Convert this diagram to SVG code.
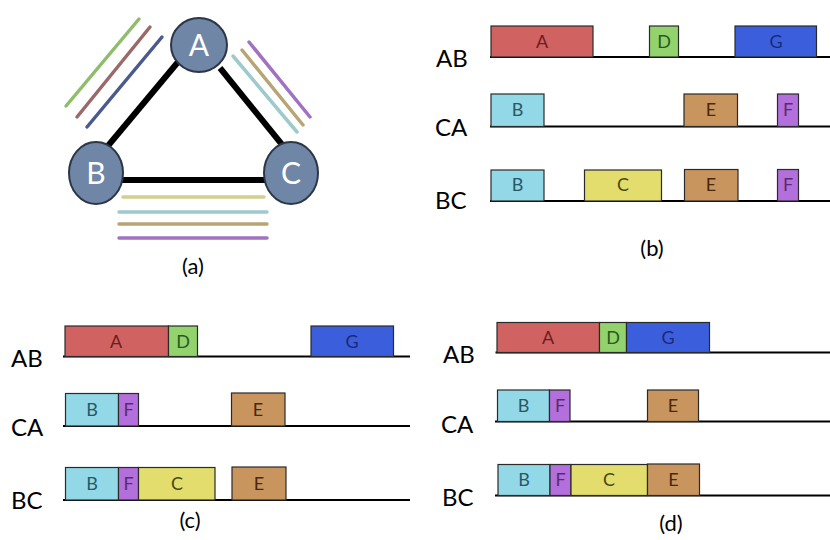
<svg xmlns="http://www.w3.org/2000/svg" width="830" height="540" viewBox="0 0 830 540">
  <style>
    text { font-family: Lato, "Open Sans", "Liberation Sans", sans-serif; }
    .node ellipse { fill: #6f86a6; stroke: #2b3647; stroke-width: 2; }
    .node text { fill: #ffffff; font-size: 30px; text-anchor: middle; }
    .edge { stroke: #000; stroke-width: 6; stroke-linecap: butt; }
    .flow { stroke-width: 3.5; stroke-linecap: round; fill: none; }
    .row { font-size: 24px; fill: #000; }
    .cap { font-size: 22px; fill: #000; text-anchor: middle; }
    .axis { stroke: #000; stroke-width: 2.2; }
    .blk rect { stroke: #2a2a2a; stroke-width: 1.2; }
    .blk text { font-size: 18px; text-anchor: middle; }
    .a rect { fill: #d06262; } .a text { fill: #6e1c1c; }
    .d rect { fill: #92d36e; } .d text { fill: #2a5a1c; }
    .g rect { fill: #3b5fdc; } .g text { fill: #1a2a78; }
    .b rect { fill: #93d8e6; } .b text { fill: #285866; }
    .e rect { fill: #c9955f; } .e text { fill: #4a2810; }
    .f rect { fill: #b36fdc; } .f text { fill: #5a2a70; }
    .c rect { fill: #e2dd6c; } .c text { fill: #4a4812; }
  </style>

  <!-- (a) triangle network -->
  <g id="links">
    <line class="edge" x1="178" y1="62" x2="107" y2="147"/>
    <line class="edge" x1="220" y1="68" x2="284" y2="147"/>
    <line class="edge" x1="120" y1="180" x2="268" y2="180"/>
  </g>
  <g id="flows">
    <line class="flow" stroke="#8fbd6c" x1="139" y1="19" x2="66" y2="106"/>
    <line class="flow" stroke="#9a6a6a" x1="150" y1="27" x2="77" y2="117"/>
    <line class="flow" stroke="#4a5a8e" x1="162" y1="37" x2="87" y2="127"/>
    <line class="flow" stroke="#a272c2" x1="249" y1="42" x2="310" y2="117"/>
    <line class="flow" stroke="#b8a474" x1="242" y1="50" x2="303" y2="125"/>
    <line class="flow" stroke="#9ccacd" x1="233" y1="56" x2="297" y2="132"/>
    <line class="flow" stroke="#d2d08e" x1="123" y1="197" x2="264" y2="197"/>
    <line class="flow" stroke="#9ccacd" x1="119" y1="212" x2="267" y2="212"/>
    <line class="flow" stroke="#b8a474" x1="119" y1="224" x2="267" y2="224"/>
    <line class="flow" stroke="#a272c2" x1="119" y1="238" x2="267" y2="238"/>
  </g>
  <g id="nodeA" class="node">
    <ellipse cx="199" cy="45" rx="28" ry="27"/>
    <text x="199" y="56">A</text>
  </g>
  <g id="nodeB" class="node">
    <ellipse cx="96" cy="173" rx="27" ry="31"/>
    <text x="96" y="184">B</text>
  </g>
  <g id="nodeC" class="node">
    <ellipse cx="291" cy="173" rx="27" ry="31"/>
    <text x="291" y="184">C</text>
  </g>
  <text class="cap" x="193" y="274">(a)</text>

  <!-- (b) -->
  <g id="panelB">
    <text class="row" x="436" y="67">AB</text>
    <text class="row" x="435" y="136">CA</text>
    <text class="row" x="435" y="209">BC</text>
    <line class="axis" x1="490" y1="57" x2="830" y2="57"/>
    <line class="axis" x1="490" y1="126.5" x2="830" y2="126.5"/>
    <line class="axis" x1="490" y1="201" x2="830" y2="201"/>
    <g class="blk a"><rect x="491" y="26" width="102" height="31"/><text x="542" y="48">A</text></g>
    <g class="blk d"><rect x="649.5" y="26" width="29" height="31"/><text x="664" y="48">D</text></g>
    <g class="blk g"><rect x="735" y="26" width="81.5" height="31"/><text x="776" y="48">G</text></g>
    <g class="blk b"><rect x="491" y="94" width="53" height="32.5"/><text x="517.5" y="116">B</text></g>
    <g class="blk e"><rect x="684" y="94" width="53.5" height="32.5"/><text x="711" y="116">E</text></g>
    <g class="blk f"><rect x="777.5" y="94" width="21" height="32.5"/><text x="788" y="116">F</text></g>
    <g class="blk b"><rect x="491" y="170" width="53" height="31"/><text x="517.5" y="191">B</text></g>
    <g class="blk c"><rect x="584.5" y="170" width="77" height="31"/><text x="623" y="191">C</text></g>
    <g class="blk e"><rect x="684.5" y="169.5" width="53.5" height="31.5"/><text x="711" y="191">E</text></g>
    <g class="blk f"><rect x="777.5" y="169.5" width="21" height="31.5"/><text x="788" y="191">F</text></g>
  </g>
  <text class="cap" x="652" y="256">(b)</text>

  <!-- (c) -->
  <g id="panelC">
    <text class="row" x="11" y="367">AB</text>
    <text class="row" x="11" y="436">CA</text>
    <text class="row" x="11" y="509">BC</text>
    <line class="axis" x1="63" y1="356.5" x2="410" y2="356.5"/>
    <line class="axis" x1="63" y1="426" x2="410" y2="426"/>
    <line class="axis" x1="63" y1="500" x2="410" y2="500"/>
    <g class="blk a"><rect x="65" y="326" width="103.5" height="30.5"/><text x="116" y="348">A</text></g>
    <g class="blk d"><rect x="168.5" y="326" width="29" height="30.5"/><text x="183" y="348">D</text></g>
    <g class="blk g"><rect x="311" y="326" width="82.5" height="30.5"/><text x="352" y="348">G</text></g>
    <g class="blk b"><rect x="65.5" y="393.5" width="53" height="32.5"/><text x="92" y="416">B</text></g>
    <g class="blk f"><rect x="118.5" y="393.5" width="20" height="32.5"/><text x="128.5" y="416">F</text></g>
    <g class="blk e"><rect x="231.5" y="393" width="53.5" height="33"/><text x="258" y="416">E</text></g>
    <g class="blk b"><rect x="65.5" y="467.5" width="53" height="32.5"/><text x="92" y="490">B</text></g>
    <g class="blk f"><rect x="118.5" y="467.5" width="20" height="32.5"/><text x="128.5" y="490">F</text></g>
    <g class="blk c"><rect x="138.5" y="467.5" width="76.5" height="32.5"/><text x="177" y="490">C</text></g>
    <g class="blk e"><rect x="232" y="467" width="54" height="33"/><text x="259" y="490">E</text></g>
  </g>
  <text class="cap" x="190" y="528">(c)</text>

  <!-- (d) -->
  <g id="panelD">
    <text class="row" x="443" y="363">AB</text>
    <text class="row" x="441" y="433">CA</text>
    <text class="row" x="442" y="506">BC</text>
    <line class="axis" x1="495.5" y1="352.5" x2="830" y2="352.5"/>
    <line class="axis" x1="495" y1="421.5" x2="830" y2="421.5"/>
    <line class="axis" x1="495" y1="495.5" x2="830" y2="495.5"/>
    <g class="blk a"><rect x="497" y="322.5" width="102.5" height="30"/><text x="548" y="344">A</text></g>
    <g class="blk d"><rect x="599.5" y="322.5" width="27" height="30"/><text x="613" y="344">D</text></g>
    <g class="blk g"><rect x="626.5" y="322.5" width="83" height="30"/><text x="668" y="344">G</text></g>
    <g class="blk b"><rect x="497.5" y="390" width="52" height="31.5"/><text x="523.5" y="412">B</text></g>
    <g class="blk f"><rect x="549.5" y="390" width="20.5" height="31.5"/><text x="560" y="412">F</text></g>
    <g class="blk e"><rect x="647.5" y="390" width="51" height="31.5"/><text x="673" y="412">E</text></g>
    <g class="blk b"><rect x="498" y="464.5" width="52" height="31"/><text x="524" y="486">B</text></g>
    <g class="blk f"><rect x="550" y="464.5" width="21" height="31"/><text x="560.5" y="486">F</text></g>
    <g class="blk c"><rect x="571" y="464.5" width="76.5" height="31"/><text x="609" y="486">C</text></g>
    <g class="blk e"><rect x="647.5" y="464" width="52" height="31.5"/><text x="673.5" y="486">E</text></g>
  </g>
  <text class="cap" x="671" y="531">(d)</text>
</svg>
